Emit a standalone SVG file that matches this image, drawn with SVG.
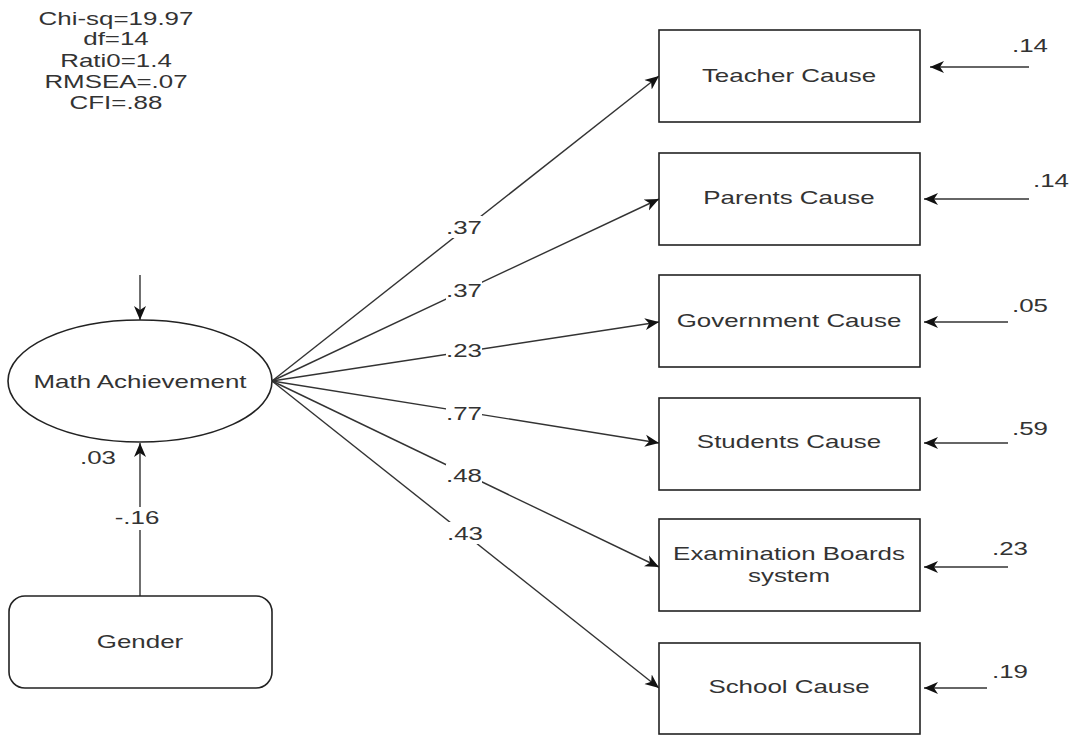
<svg xmlns="http://www.w3.org/2000/svg" width="1069" height="736" viewBox="0 0 1069 736">
<style>
.t{font-family:"Liberation Sans",Arial,sans-serif;font-size:18px;fill:#333;text-anchor:middle}
.box{fill:#fff;stroke:#222;stroke-width:1.6}
.ln{fill:none;stroke:#333;stroke-width:1.4}
.bg{fill:#fff;stroke:none}
</style>
<defs>
<marker id="ah" markerUnits="userSpaceOnUse" markerWidth="16" markerHeight="14" refX="14" refY="7" orient="auto">
<path d="M0,1 L14,7 L0,13 L4,7 Z" fill="#111"/>
</marker>
</defs>
<rect width="1069" height="736" fill="#fff"/>

<g id="fit-stats">
<text class="t" transform="matrix(1.44 0 0 1 116 25)">Chi-sq=19.97</text>
<text class="t" transform="matrix(1.44 0 0 1 116 45)">df=14</text>
<text class="t" transform="matrix(1.44 0 0 1 116 67)">Rati0=1.4</text>
<text class="t" transform="matrix(1.44 0 0 1 116 88)">RMSEA=.07</text>
<text class="t" transform="matrix(1.44 0 0 1 116 109)">CFI=.88</text>
</g>

<g id="connectors">
<line class="ln" x1="140" y1="275" x2="140" y2="320" marker-end="url(#ah)"/>
<line class="ln" x1="140" y1="596" x2="140" y2="443" marker-end="url(#ah)"/>
<line class="ln" x1="272" y1="381" x2="659" y2="76" marker-end="url(#ah)"/>
<line class="ln" x1="272" y1="381" x2="659" y2="199" marker-end="url(#ah)"/>
<line class="ln" x1="272" y1="381" x2="659" y2="322" marker-end="url(#ah)"/>
<line class="ln" x1="272" y1="381" x2="659" y2="443" marker-end="url(#ah)"/>
<line class="ln" x1="272" y1="381" x2="659" y2="567" marker-end="url(#ah)"/>
<line class="ln" x1="272" y1="381" x2="659" y2="688" marker-end="url(#ah)"/>
<line class="ln" x1="1029" y1="67" x2="930" y2="67" marker-end="url(#ah)"/>
<line class="ln" x1="1029" y1="199" x2="924" y2="199" marker-end="url(#ah)"/>
<line class="ln" x1="1008" y1="322" x2="924" y2="322" marker-end="url(#ah)"/>
<line class="ln" x1="1008" y1="443" x2="924" y2="443" marker-end="url(#ah)"/>
<line class="ln" x1="1008" y1="567" x2="924" y2="567" marker-end="url(#ah)"/>
<line class="ln" x1="987" y1="688" x2="924" y2="688" marker-end="url(#ah)"/>
<g id="path-labels">
<rect class="bg" x="446" y="216" width="36" height="22"/>
<text class="t" transform="matrix(1.44 0 0 1 464 234)">.37</text>
<rect class="bg" x="446" y="279" width="36" height="22"/>
<text class="t" transform="matrix(1.44 0 0 1 464 297)">.37</text>
<rect class="bg" x="446" y="340" width="36" height="20"/>
<text class="t" transform="matrix(1.44 0 0 1 464 357)">.23</text>
<rect class="bg" x="446" y="403" width="36" height="20"/>
<text class="t" transform="matrix(1.44 0 0 1 464 420)">.77</text>
<rect class="bg" x="446" y="464" width="36" height="22"/>
<text class="t" transform="matrix(1.44 0 0 1 464 482)">.48</text>
<rect class="bg" x="448" y="522" width="34" height="22"/>
<text class="t" transform="matrix(1.44 0 0 1 465 540)">.43</text>
<rect class="bg" x="118" y="507" width="40" height="23"/>
<text class="t" transform="matrix(1.44 0 0 1 137 524)">-.16</text>
<text class="t" transform="matrix(1.44 0 0 1 98 464)">.03</text>
</g>
</g>

<g id="errors">
<text class="t" transform="matrix(1.44 0 0 1 1030 52)">.14</text>
<text class="t" transform="matrix(1.44 0 0 1 1051 187)">.14</text>
<text class="t" transform="matrix(1.44 0 0 1 1030 312)">.05</text>
<text class="t" transform="matrix(1.44 0 0 1 1030 435)">.59</text>
<text class="t" transform="matrix(1.44 0 0 1 1010 555)">.23</text>
<text class="t" transform="matrix(1.44 0 0 1 1010 678)">.19</text>
</g>

<g id="math-achievement">
<ellipse class="box" cx="140" cy="381" rx="132" ry="61"/>
<text class="t" transform="matrix(1.44 0 0 1 140 388)">Math Achievement</text>
</g>

<g id="gender">
<rect class="box" x="9" y="596" width="263" height="92" rx="16"/>
<text class="t" transform="matrix(1.44 0 0 1 140 648)">Gender</text>
</g>

<g id="teacher-cause">
<rect class="box" x="659" y="30" width="261" height="92"/>
<text class="t" transform="matrix(1.44 0 0 1 789 82)">Teacher Cause</text>
</g>
<g id="parents-cause">
<rect class="box" x="659" y="153" width="261" height="92"/>
<text class="t" transform="matrix(1.44 0 0 1 789 204)">Parents Cause</text>
</g>
<g id="government-cause">
<rect class="box" x="659" y="275" width="261" height="92"/>
<text class="t" transform="matrix(1.44 0 0 1 789 327)">Government Cause</text>
</g>
<g id="students-cause">
<rect class="box" x="659" y="398" width="261" height="92"/>
<text class="t" transform="matrix(1.44 0 0 1 789 448)">Students Cause</text>
</g>
<g id="examination-boards">
<rect class="box" x="659" y="519" width="261" height="92"/>
<text class="t" transform="matrix(1.44 0 0 1 789 560)">Examination Boards</text>
<text class="t" transform="matrix(1.44 0 0 1 789 582)">system</text>
</g>
<g id="school-cause">
<rect class="box" x="659" y="643" width="261" height="91"/>
<text class="t" transform="matrix(1.44 0 0 1 789 693)">School Cause</text>
</g>
</svg>
